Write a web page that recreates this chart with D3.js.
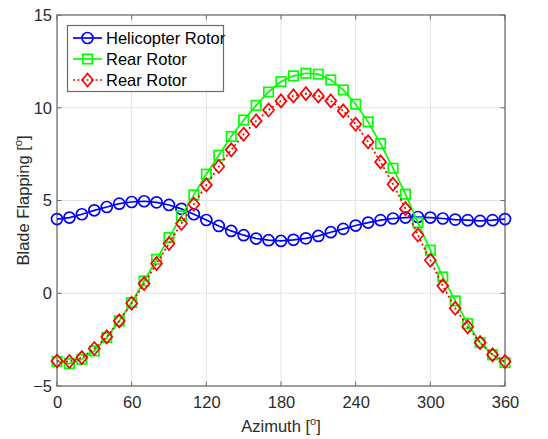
<!DOCTYPE html>
<html><head><meta charset="utf-8">
<script src="https://cdn.jsdelivr.net/npm/d3@7"></script>
<style>body{margin:0;background:#fff}svg{display:block;font-family:"Liberation Sans",Arial,sans-serif}</style>
</head><body><svg id="c" width="548" height="439"></svg>
<script>
const azimuth = d3.range(0, 361, 10);
const helicopter = [4.0,4.08,4.26,4.47,4.65,4.83,4.92,4.96,4.9,4.76,4.55,4.26,3.95,3.63,3.36,3.13,2.95,2.86,2.82,2.88,2.96,3.09,3.29,3.47,3.65,3.81,3.94,4.03,4.08,4.11,4.08,4.03,3.97,3.94,3.9,3.94,4.0];
const rearSolid = [-3.68,-3.79,-3.56,-3.11,-2.39,-1.49,-0.5,0.66,1.83,3.0,4.17,5.3,6.42,7.44,8.45,9.34,10.13,10.85,11.41,11.72,11.86,11.81,11.5,10.96,10.19,9.24,8.07,6.74,5.34,3.81,2.32,0.88,-0.41,-1.64,-2.66,-3.32,-3.74];
const rearDotted = [-3.65,-3.68,-3.47,-2.98,-2.35,-1.49,-0.54,0.52,1.6,2.68,3.76,4.8,5.84,6.83,7.73,8.57,9.29,9.88,10.37,10.64,10.76,10.64,10.37,9.83,9.11,8.16,7.08,5.88,4.56,3.14,1.78,0.4,-0.81,-1.81,-2.66,-3.32,-3.68];
const xTicks = [0,60,120,180,240,300,360];
const yTicks = [-5,0,5,10,15];
const seriesNames = ["Helicopter Rotor","Rear Rotor","Rear Rotor"];

const svg = d3.select("#c");
const L=57, R=505, T=15, B=386;
const x = d3.scaleLinear().domain([0,360]).range([L,R]);
const y = d3.scaleLinear().domain([-5,15]).range([B,T]);
const textCol="#2b2b2b", boxCol="#6a6a6a";

// grid
const g = svg.append("g");
g.selectAll(".gx").data(xTicks).join("line").attr("x1",d=>x(d)).attr("x2",d=>x(d)).attr("y1",T).attr("y2",B).attr("stroke","#e3e3e3");
g.selectAll(".gy").data(yTicks).join("line").attr("y1",d=>y(d)).attr("y2",d=>y(d)).attr("x1",L).attr("x2",R).attr("stroke","#e3e3e3");

// axes
const ax = d3.axisBottom(x).tickValues(xTicks).tickSize(0).tickPadding(10);
const axg = svg.append("g").attr("transform",`translate(0,${B})`).call(ax);
axg.select(".domain").remove();
axg.selectAll("text").attr("font-size",16.5).attr("fill",textCol).attr("font-family","Liberation Sans, Arial, sans-serif");
const ay = d3.axisLeft(y).tickValues(yTicks).tickSize(0).tickPadding(5);
const ayg = svg.append("g").attr("transform",`translate(${L},0)`).call(ay);
ayg.select(".domain").remove();
ayg.selectAll("text").attr("font-size",16.5).attr("fill",textCol).attr("font-family","Liberation Sans, Arial, sans-serif");

// tick marks inward
const tl=4.5;
xTicks.forEach(t=>{
  svg.append("line").attr("x1",x(t)).attr("x2",x(t)).attr("y1",B).attr("y2",B-tl).attr("stroke",boxCol);
  svg.append("line").attr("x1",x(t)).attr("x2",x(t)).attr("y1",T).attr("y2",T+tl).attr("stroke",boxCol);
});
yTicks.forEach(t=>{
  svg.append("line").attr("y1",y(t)).attr("y2",y(t)).attr("x1",L).attr("x2",L+tl).attr("stroke",boxCol);
  svg.append("line").attr("y1",y(t)).attr("y2",y(t)).attr("x1",R).attr("x2",R-tl).attr("stroke",boxCol);
});
svg.append("rect").attr("x",L).attr("y",T).attr("width",R-L).attr("height",B-T).attr("fill","none").attr("stroke",boxCol).attr("stroke-width",1.2);

// data
const line = d3.line().x((d,i)=>x(azimuth[i])).y(d=>y(d));
const plot = svg.append("g");
function drawSeries(vals,color,dash,marker){
  plot.append("path").attr("d",line(vals)).attr("fill","none").attr("stroke",color).attr("stroke-width",1.7).attr("stroke-dasharray",dash);
  const m = plot.append("g");
  vals.forEach((v,i)=>drawMarker(m,x(azimuth[i]),y(v),marker,color));
}
function drawMarker(m,cx,cy,marker,color){
  if(marker==="circle") m.append("circle").attr("cx",cx).attr("cy",cy).attr("r",5.5).attr("fill","none").attr("stroke",color).attr("stroke-width",1.7);
  else if(marker==="square") m.append("rect").attr("x",cx-4.7).attr("y",cy-4.7).attr("width",9.4).attr("height",9.4).attr("fill","none").attr("stroke",color).attr("stroke-width",1.7);
  else m.append("path").attr("d",`M${cx},${cy-6.5}L${cx+5.5},${cy}L${cx},${cy+6.5}L${cx-5.5},${cy}Z`).attr("fill","none").attr("stroke",color).attr("stroke-width",1.7);
}
drawSeries(helicopter,"#0000ff",null,"circle");
drawSeries(rearSolid,"#00ff00",null,"square");
drawSeries(rearDotted,"#ff0000","2,2.5","diamond");

// axis labels
const xl = svg.append("text").attr("x",(L+R)/2).attr("y",432).attr("text-anchor","middle").attr("font-size",16.5).attr("fill",textCol);
xl.append("tspan").text("Azimuth [");
xl.append("tspan").attr("dy",-7).attr("font-size",11).text("o");
xl.append("tspan").attr("dy",7).text("]");
const yl = svg.append("text").attr("transform",`translate(29,${(T+B)/2}) rotate(-90)`).attr("text-anchor","middle").attr("font-size",16.5).attr("fill",textCol);
yl.append("tspan").text("Blade Flapping [");
yl.append("tspan").attr("dy",-7).attr("font-size",11).text("o");
yl.append("tspan").attr("dy",7).text("]");

// legend
const lg = svg.append("g");
lg.append("rect").attr("x",67.5).attr("y",25.5).attr("width",156).attr("height",66).attr("fill","#fff").attr("stroke",boxCol).attr("stroke-width",1.2);
const cols=["#0000ff","#00ff00","#ff0000"], marks=["circle","square","diamond"], dashes=[null,null,"2,2.5"];
seriesNames.forEach((n,i)=>{
  const ry = 38 + i*21;
  lg.append("line").attr("x1",73).attr("x2",102).attr("y1",ry).attr("y2",ry).attr("stroke",cols[i]).attr("stroke-width",1.7).attr("stroke-dasharray",dashes[i]);
  drawMarker(lg,87.5,ry,marks[i],cols[i]);
  lg.append("text").attr("x",106).attr("y",ry+5.5).attr("font-size",16.5).attr("fill","#000").text(n);
});
</script></body></html>
